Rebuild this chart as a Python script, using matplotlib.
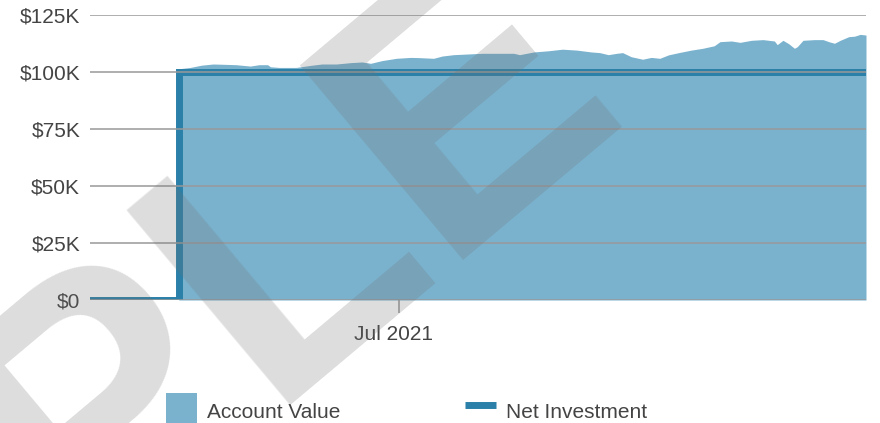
import pandas as pd
import matplotlib
matplotlib.use("Agg")
from matplotlib import pyplot as plt
from matplotlib import transforms
from matplotlib.patches import Patch
from matplotlib.lines import Line2D

# ---DATA---
x_start, x_end = "2021-03-15", "2021-12-11"

net_dates = ["2021-03-15", "2021-04-15", "2021-12-11"]
net_values = [0, 100000, 100000]

acct_dates = [
    "2021-04-15", "2021-04-19", "2021-04-23", "2021-04-27", "2021-04-30",
    "2021-05-05", "2021-05-10", "2021-05-13", "2021-05-16", "2021-05-17",
    "2021-05-20", "2021-05-26", "2021-05-31", "2021-06-04", "2021-06-09",
    "2021-06-14", "2021-06-18", "2021-06-21", "2021-06-25", "2021-06-30",
    "2021-07-05", "2021-07-08", "2021-07-13", "2021-07-16", "2021-07-20",
    "2021-07-25", "2021-07-30", "2021-08-05", "2021-08-10", "2021-08-12",
    "2021-08-17", "2021-08-22", "2021-08-27", "2021-09-01", "2021-09-06",
    "2021-09-09", "2021-09-12", "2021-09-15", "2021-09-17", "2021-09-20",
    "2021-09-24", "2021-09-27", "2021-09-30", "2021-10-03", "2021-10-07",
    "2021-10-11", "2021-10-15", "2021-10-19", "2021-10-21", "2021-10-25",
    "2021-10-28", "2021-11-01", "2021-11-05", "2021-11-09", "2021-11-10",
    "2021-11-12", "2021-11-14", "2021-11-16", "2021-11-17", "2021-11-19",
    "2021-11-23", "2021-11-26", "2021-11-28", "2021-11-30", "2021-12-02",
    "2021-12-05", "2021-12-07", "2021-12-09", "2021-12-11",
]
acct_values_k = [
    101.4, 102.0, 103.0, 103.5, 103.4,
    103.2, 102.6, 103.2, 103.2, 102.3,
    102.0, 102.0, 102.9, 103.5, 103.5,
    104.1, 104.4, 103.8, 105.0, 106.0,
    106.4, 106.3, 106.0, 107.0, 107.6,
    107.9, 108.2, 108.2, 108.2, 107.6,
    108.8, 109.3, 110.0, 109.6, 108.8,
    108.5, 107.6, 108.2, 108.5, 106.7,
    105.6, 106.4, 106.0, 107.5, 108.6,
    109.6, 110.4, 111.5, 113.3, 113.6,
    113.0, 113.9, 114.2, 113.6, 112.0,
    113.9, 112.4, 110.4, 111.1, 113.9,
    114.2, 114.2, 113.3, 112.6, 113.9,
    115.5, 115.7, 116.5, 116.2,
]

y_ticks = [0, 25000, 50000, 75000, 100000, 125000]
y_labels = ["$0", "$25K", "$50K", "$75K", "$100K", "$125K"]
x_ticks = ["2021-07-01"]
x_labels = ["Jul 2021"]

AREA = "#7ab2ce"
LINE = "#2a80a8"
GRID = "#999999"
TEXT = "#444444"
FS = 15

plt.rcParams["font.family"] = ["Liberation Sans", "DejaVu Sans"]

W, H = 880, 423
fig = plt.figure(figsize=(W / 100, H / 100), dpi=100)
ax = fig.add_axes([90 / W, 1 - 300 / H, (866 - 90) / W, (300 - 15) / H])

acct_x = pd.to_datetime(acct_dates)
acct_y = [v * 1000 for v in acct_values_k]
ax.fill_between(acct_x, acct_y, 0, color=AREA, linewidth=0, zorder=1)
ax.plot(pd.to_datetime(net_dates), net_values, drawstyle="steps-post",
        color=LINE, linewidth=5, solid_joinstyle="miter", zorder=2)

ax.set_xlim(pd.Timestamp(x_start), pd.Timestamp(x_end))
ax.set_ylim(0, 125000)
ax.set_axisbelow(False)

ax.set_yticks(y_ticks)
ax.set_yticklabels(y_labels)
ax.set_xticks(pd.to_datetime(x_ticks))
ax.set_xticklabels(x_labels)
ax.grid(axis="y", color=GRID, linewidth=1.1)
ax.tick_params(axis="y", length=0, pad=7, labelsize=FS, labelcolor=TEXT)
ax.tick_params(axis="x", length=9, width=1.1, color=GRID, pad=9,
               labelsize=FS, labelcolor=TEXT)
for side in ["top", "right", "left", "bottom"]:
    ax.spines[side].set_visible(False)

# the date label sits a little left of its tick
shift = transforms.ScaledTranslation(-6 / 100, 0, fig.dpi_scale_trans)
for lbl in ax.get_xticklabels():
    lbl.set_transform(lbl.get_transform() + shift)

handles = [Patch(facecolor=AREA, edgecolor="none"),
           Line2D([0], [0], color=LINE, linewidth=5, solid_capstyle="butt")]
fig.legend(handles, ["Account Value", "Net Investment"],
           loc="upper left", bbox_to_anchor=(166 / W, 1 - 393 / H),
           ncol=2, frameon=False, fontsize=FS, labelcolor=TEXT,
           handlelength=1.5, handleheight=2.3, handletextpad=0.45,
           columnspacing=6.0, borderpad=0, borderaxespad=0)

# watermark
fig.text(-548 / W, 1 - 1100 / H, "SAMPLE", fontsize=266, fontweight="bold",
         color="#727272", alpha=0.24, rotation=40, rotation_mode="anchor",
         ha="left", va="baseline", zorder=10)

fig.savefig("out.png", dpi=100)
